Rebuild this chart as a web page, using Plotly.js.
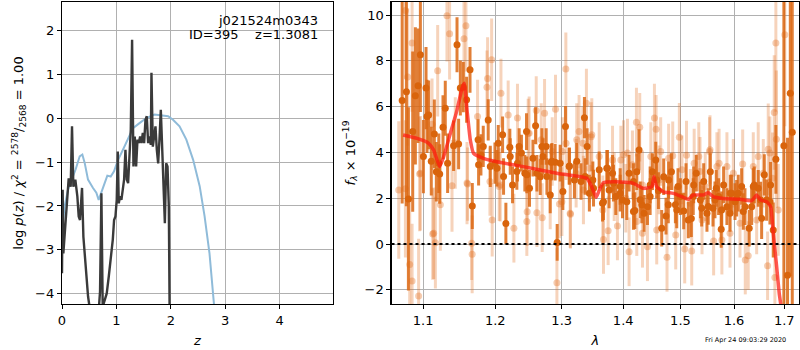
<!DOCTYPE html>
<html><head><meta charset="utf-8">
<script src="https://cdn.plot.ly/plotly-3.0.1.min.js"></script>
<style>html,body{margin:0;padding:0;background:#fff}#plot{width:800px;height:350px}</style>
</head><body><div id="plot"></div>
<script>
// ---- Left panel: log p(z) ----
const zDark = [0,0.012,0.025,0.049,0.086,0.123,0.160,0.184,0.209,0.245,0.282,0.307,0.331,0.368,0.393,0.417,0.442,0.479,0.515,0.600,0.675,0.699,0.724,0.748,0.785,0.822,0.859,0.896,0.933,0.957,0.982,1.006,1.025,1.043,1.067,1.092,1.117,1.141,1.166,1.190,1.215,1.239,1.264,1.288,1.313,1.337,1.362,1.387,1.411,1.436,1.460,1.485,1.509,1.534,1.558,1.583,1.607,1.632,1.644,1.669,1.693,1.718,1.742,1.767,1.791,1.816,1.840,1.865,1.890,1.914,1.939,1.963,1.975,2.000];
const lpDark = [-3.53,-1.63,-3.08,-2.62,-1.86,-1.37,-1.56,-0.19,-1.56,-1.40,-1.78,-2.24,-2.32,-1.59,-2.70,-3.08,-3.53,-4.06,-4.37,-5.5,-4.37,-3.95,-1.71,-4.29,-4.14,-3.99,-3.61,-3.23,-2.77,-2.32,-2.24,-1.86,-0.76,-1.94,-1.78,-1.86,-1.63,-1.40,-0.72,-1.40,-1.48,-0.95,-0.27,1.78,-1.10,-0.42,-1.10,-0.49,-0.57,-0.42,-0.57,-0.34,-0.57,-0.04,0.04,-0.57,-0.42,-0.61,1.03,-0.65,-0.34,-0.19,-0.72,-1.03,-0.49,0.19,-0.65,-1.56,-2.39,-1.03,-1.10,-2.01,-4.29,-8];
const zPrior = [0,0.05,0.11,0.17,0.25,0.325,0.374,0.417,0.478,0.57,0.631,0.674,0.723,0.784,0.833,0.895,0.956,1.03,1.12,1.21,1.305,1.43,1.55,1.70,1.826,1.95,2.04,2.16,2.285,2.41,2.53,2.62,2.71,2.79,2.84];
const lpPrior = [-2.54,-2.0,-1.63,-1.44,-1.17,-0.87,-0.83,-1.02,-1.40,-1.59,-1.70,-1.86,-1.67,-1.48,-1.31,-1.33,-1.21,-0.95,-0.72,-0.49,-0.23,-0.11,0,0.08,0.06,0.04,-0.04,-0.19,-0.49,-0.95,-1.55,-2.23,-3.07,-4.20,-4.9];
const zTicks = [0,1,2,3,4];
const lpTicks = [-4,-3,-2,-1,0,1,2];

// ---- Right panel: spectrum ----
const wlDark = [1.0726,1.0781,1.0807,1.0863,1.0898,1.0933,1.0964,1.1039,1.1052,1.1074,1.1109,1.1150,1.1177,1.1222,1.1267,1.1298,1.1330,1.1412,1.1459,1.1481,1.1505,1.1546,1.1592,1.1640,1.1672,1.1754,1.1794,1.1827,1.1898,1.1995,1.2043,1.2106,1.2154,1.2212,1.2252,1.2325,1.2350,1.2384,1.2435,1.2460,1.2505,1.2557,1.2597,1.2668,1.2709,1.2759,1.2821,1.2836,1.2898,1.2929,1.3018,1.3059,1.3121,1.3201,1.3306,1.3361,1.3404,1.3441,1.3497,1.3601,1.3655,1.3737,1.3764,1.3821,1.3876,1.3949,1.3988,1.4100,1.4174,1.4197,1.4231,1.4270,1.4318,1.4358,1.4415,1.4462,1.4502,1.4560,1.4607,1.4665,1.4700,1.4741,1.4788,1.4838,1.4909,1.4956,1.4999,1.5059,1.5101,1.5198,1.5241,1.5289,1.5364,1.5426,1.5487,1.5550,1.5600,1.5662,1.5706,1.5755,1.5801,1.5864,1.5929,1.5955,1.6019,1.6082,1.6148,1.6213,1.6296,1.6344,1.6396,1.6474,1.6522,1.6595,1.6641,1.6721,1.6775,1.6828,1.6991,1.7066,1.7123,1.7164,
  1.1004,1.1210,1.1761,1.1928,1.2024,1.2120,1.2218,1.2316,1.2465,1.2617,1.2693,1.2770,1.2847,1.2976,1.3118,1.3238,1.3372,1.3508,1.3671,1.3726,1.3837,1.3949,1.4061,1.4174,1.4289,1.4462,1.4577,1.4782,1.4933,1.5142,1.5233,1.5389,1.5511,1.5637,1.5763,1.5923,1.6051,1.6180,1.6376,1.6542,1.6708];
const fDark = [6.27,6.65,1.97,4.91,6.47,6.91,8.27,6.81,5.57,5.64,3.62,4.81,3.16,3.06,5.10,5.93,3.53,4.29,8.70,4.37,6.81,6.85,6.30,7.61,1.66,4.55,3.89,4.26,5.42,3.53,4.40,4.77,0.90,4.23,2.58,3.53,4.26,3.97,3.09,4.91,2.43,3.75,5.17,2.94,3.82,4.26,2.14,3.57,3.57,0.07,2.29,5.13,3.41,2.80,2.73,5.52,4.26,2.22,2.80,3.24,1.78,3.31,2.36,3.09,2.07,2.51,1.92,3.09,2.73,1.46,3.16,4.11,1.71,1.34,1.63,2.58,3.16,3.67,2.33,0.69,2.94,1.22,2.80,3.16,1.71,2.51,2.07,1.44,2.73,1.11,2.58,3.09,1.92,2.73,1.34,3.16,1.56,2.43,2.07,0.64,2.58,1.63,2.22,2.22,1.85,2.22,2.51,1.63,0.69,1.63,2.58,2.43,1.92,3.02,1.92,2.58,0.61,3.70,4.29,-1.36,6.59,4.88,
  3.82,3.53,3.46,3.39,3.31,2.95,3.82,3.17,3.02,3.09,4.26,2.95,3.61,3.53,3.39,3.61,2.95,2.44,1.85,3.31,2.66,2.22,1.85,1.42,1.93,2.07,2.80,1.71,1.49,1.05,2.07,1.56,1.64,1.93,1.49,1.34,2.00,1.42,2.51,1.12,1.85];
const eDark = [4.5,5.0,4.0,3.5,3.0,2.5,2.5,1.8,1.6,1.5,1.5,1.5,1.3,1.3,1.4,1.2,1.3,1.1,1.2,1.1,1.2,1.1,1.0,1.0,1.0,0.9,0.9,0.9,0.9,0.9,0.8,0.8,0.9,0.8,0.8,0.8,0.8,0.8,0.8,0.8,0.8,0.8,0.8,0.8,0.8,0.8,0.8,0.8,0.8,0.8,0.8,0.9,0.8,0.8,0.8,0.9,0.8,0.8,0.8,0.8,0.8,0.8,0.8,0.8,0.8,0.8,0.8,0.8,0.8,0.8,0.8,0.9,0.8,0.8,0.8,0.8,0.8,0.8,0.8,0.8,0.8,0.8,0.8,0.8,0.8,0.8,0.8,0.8,0.8,0.8,0.8,0.8,0.8,0.8,0.8,0.8,0.8,0.8,0.8,0.8,0.8,0.8,0.8,0.8,0.8,0.8,0.8,0.8,0.8,0.8,0.8,0.8,0.8,0.9,0.9,1.0,1.2,1.5,8,6,8,8,
  1.6,1.3,0.9,0.9,0.8,0.8,0.8,0.8,0.8,0.8,0.8,0.8,0.8,0.8,0.8,0.8,0.8,0.8,0.8,0.8,0.8,0.8,0.8,0.8,0.8,0.8,0.8,0.8,0.8,0.8,0.8,0.8,0.8,0.8,0.8,0.8,0.8,0.8,0.8,0.9,1.0];
const wlLight = [1.0768,1.0855,1.0798,1.1321,1.1357,1.1195,1.0954,1.0768,1.0824,1.0855,1.0941,1.1128,1.1164,1.1231,1.1390,1.1119,1.1556,1.1583,1.1947,1.1889,1.1880,1.2082,1.2188,1.2325,1.1746,1.1606,1.1663,1.1670,1.1955,1.2057,1.2272,1.1923,1.2485,1.3065,1.2607,1.2734,1.2903,1.2925,1.2617,1.2470,1.2698,1.3138,1.3393,1.3470,1.2965,1.4225,1.4282,1.4537,1.4566,1.3671,1.3748,1.3903,1.4100,1.4415,1.4329,1.4072,1.4044,1.4647,1.4980,1.4861,1.5110,1.5250,1.5536,1.5715,1.4759,1.5077,1.5205,1.5612,1.5768,1.5395,1.4915,1.6828,1.7011,1.6795,1.6674,1.6761,1.6168,1.6376,1.6219,1.6277,1.6661,1.6808,1.6838,
  1.0682,1.0964,1.1141,1.1435,1.1598,1.2072,1.2465,1.2821,1.3003,1.3133,1.3238,1.3345,1.3480,1.3660,1.4005,1.4231,1.4577,1.5358,1.5544,1.5923,1.6116,1.6443,
  1.2500,1.3068,1.3228,1.3275,1.3335,1.3441,1.2683,1.2852,1.3010,1.3601,1.3821,1.3960,1.4157,1.4474,1.4619,1.3849,1.4329,1.4788,1.5335,1.5674,1.5864,1.5027,1.5455,1.5180,1.5987,1.6474,1.6575,1.6708,1.6876];
const fLight = [10.2,8.78,7.29,9.97,9.18,7.57,3.06,2.41,-0.89,-1.62,-2.27,0.44,0.06,1.71,2.54,5.23,8.97,9.53,8.05,7.23,6.85,6.59,5.64,5.50,5.57,2.62,0.03,-0.45,1.05,2.51,0.69,2.73,4.84,7.64,5.83,5.71,5.89,-1.69,1.37,1.41,1.15,1.30,6.15,4.69,1.75,5.32,5.10,5.50,5.01,0.20,0.58,0.79,-0.34,-0.12,0.47,3.97,2.0,4.04,4.66,3.85,3.88,3.53,4.04,3.53,-0.58,-0.22,-0.31,0.13,0.17,1.05,0.39,8.78,9.14,5.74,4.14,2.87,3.50,3.38,-0.70,-0.51,-0.95,-1.46,4.58,
  2.36,3.09,0.47,4.41,2.66,2.58,0.98,2.15,1.85,1.34,4.55,2.36,4.77,1.49,3.90,0.98,0.61,3.17,4.12,0.47,0.91,1.05,
  4.84,4.40,3.09,4.91,4.40,3.31,4.55,4.04,4.04,3.82,3.67,3.67,3.46,3.82,2.80,2.51,2.58,3.75,3.82,3.38,3.38,3.24,2.51,1.78,3.09,3.82,3.09,3.97,1.49];
const eLight = [3,3,3,2,2,2,2.5,3,3,2.5,2.5,2,2,2,2,2,2,2,1.8,1.8,1.6,1.5,1.5,1.5,1.6,1.6,1.6,1.7,1.6,1.5,1.5,1.5,1.5,1.6,1.5,1.5,1.5,1.5,1.5,1.5,1.5,1.5,1.5,1.5,1.5,1.5,1.5,1.5,1.5,1.5,1.5,1.5,1.5,1.5,1.5,1.5,1.5,1.5,1.5,1.5,1.5,1.5,1.5,1.5,1.5,1.5,1.5,1.5,1.5,1.5,1.5,3,4,2.5,2,2,1.5,1.5,1.5,1.5,1.5,2,3,
  3,2.5,2,2,1.8,1.6,1.5,1.5,1.5,1.5,1.6,1.5,1.6,1.5,1.5,1.5,1.5,1.5,1.5,1.5,1.5,1.5,
  1.6,1.6,1.5,1.6,1.6,1.5,1.6,1.5,1.5,1.5,1.5,1.5,1.5,1.5,1.5,1.5,1.5,1.5,1.5,1.5,1.5,1.5,1.5,1.5,1.5,1.5,1.5,1.6,2];
const wlModel = [1.0738,1.0921,1.1074,1.1141,1.1222,1.1276,1.1367,1.1459,1.1528,1.1560,1.1598,1.1644,1.1690,1.1832,1.2024,1.2415,1.2925,1.3400,1.3480,1.3550,1.3604,1.3670,1.3892,1.4173,1.4344,1.4490,1.4530,1.4577,1.4694,1.4871,1.5051,1.5142,1.5233,1.5418,1.5511,1.5604,1.5793,1.6116,1.6345,1.6443,1.6522,1.6642,1.6723,1.6775,1.6844,1.6896,1.6945,1.6975];
const fModel = [4.76,4.61,4.40,4.10,3.38,3.81,4.83,5.85,6.80,7.02,5.85,4.54,3.96,3.74,3.59,3.38,3.09,2.87,2.50,2.04,2.36,2.68,2.72,2.65,2.43,2.50,2.94,2.50,2.28,2.21,2.04,1.95,2.14,2.14,2.24,2.07,1.99,1.95,1.89,2.14,1.92,1.85,1.63,0.47,-0.99,-2.15,-2.9,-3.5];
const wlTicks = [1.1,1.2,1.3,1.4,1.5,1.6,1.7];
const wlTickText = ['1.1','1.2','1.3','1.4','1.5','1.6','1.7'];
const fTicks = [-2,0,2,4,6,8,10];

const font = {family:'DejaVu Sans, sans-serif', size:13, color:'#000'};
const axBase = {showline:true, mirror:true, linecolor:'#000', linewidth:1.2, ticks:'outside', ticklen:4, tickcolor:'#000', showgrid:true, gridcolor:'#b0b0b0', gridwidth:1, zeroline:false, tickfont:font};

const traces = [
  {x:zPrior, y:lpPrior, xaxis:'x', yaxis:'y', mode:'lines', line:{color:'#8fbbd9', width:2}, hoverinfo:'skip'},
  {x:zDark, y:lpDark, xaxis:'x', yaxis:'y', mode:'lines', line:{color:'#3a3a3a', width:2.4}, hoverinfo:'skip'},
  {x:wlLight, y:fLight, xaxis:'x2', yaxis:'y2', mode:'markers', marker:{color:'rgba(225,110,30,0.35)', size:7},
   error_y:{type:'data', array:eLight, visible:true, color:'rgba(225,110,30,0.3)', thickness:3, width:0}},
  {x:wlDark, y:fDark, xaxis:'x2', yaxis:'y2', mode:'markers', marker:{color:'#d9640c', size:7},
   error_y:{type:'data', array:eDark, visible:true, color:'rgba(220,105,20,0.85)', thickness:3, width:0}},
  {x:wlModel, y:fModel, xaxis:'x2', yaxis:'y2', mode:'lines', line:{color:'rgba(255,25,15,0.72)', width:3.5, shape:'spline', smoothing:0.4}, hoverinfo:'skip'}
];

const layout = {
  width:800, height:350, margin:{l:0,r:0,t:0,b:0}, showlegend:false,
  paper_bgcolor:'#fff', plot_bgcolor:'#fff', font:font,
  xaxis:Object.assign({}, axBase, {domain:[62/800, 333/800], range:[0,4.98], tickvals:zTicks, anchor:'y',
    title:{text:'<i>z</i>', font:font, standoff:9}}),
  yaxis:Object.assign({}, axBase, {domain:[1-304/350, 1-2/350], range:[-4.23,2.64], tickvals:lpTicks, anchor:'x',
    title:{text:'log <i>p</i>(<i>z</i>) / <i>χ</i><sup>2</sup> = <sup>2578</sup>/<sub>2568</sub> = 1.00', font:font, standoff:8}}),
  xaxis2:Object.assign({}, axBase, {domain:[391.5/800, 799.3/800], type:'log', range:[Math.log10(1.0589), Math.log10(1.7310)],
    tickvals:wlTicks, ticktext:wlTickText, anchor:'y2', title:{text:'<i>λ</i>', font:font, standoff:9}}),
  yaxis2:Object.assign({}, axBase, {domain:[1-304/350, 1-2/350], range:[-2.62,10.57], tickvals:fTicks, anchor:'x2',
    title:{text:'<i>f</i><sub><i>λ</i></sub> × 10<sup>−19</sup>', font:font, standoff:6}}),
  shapes:[{type:'line', xref:'x2 domain', yref:'y2', x0:0, x1:1, y0:0, y1:0, line:{color:'#000', width:2, dash:'dot'}, layer:'above'}],
  annotations:[
    {xref:'paper', yref:'paper', x:320/800, y:1-20/350, xanchor:'right', yanchor:'middle', text:'j021524m0343', showarrow:false, font:font},
    {xref:'paper', yref:'paper', x:320/800, y:1-35/350, xanchor:'right', yanchor:'middle', text:'ID=395&nbsp;&nbsp;&nbsp;&nbsp;z=1.3081', showarrow:false, font:font},
    {xref:'paper', yref:'paper', x:788/800, y:1-340/350, xanchor:'right', yanchor:'middle', text:'Fri Apr 24 09:03:29 2020', showarrow:false, font:{family:'DejaVu Sans, sans-serif', size:6.5, color:'#000'}}
  ]
};
Plotly.newPlot('plot', traces, layout, {staticPlot:true, displayModeBar:false});
</script></body></html>
